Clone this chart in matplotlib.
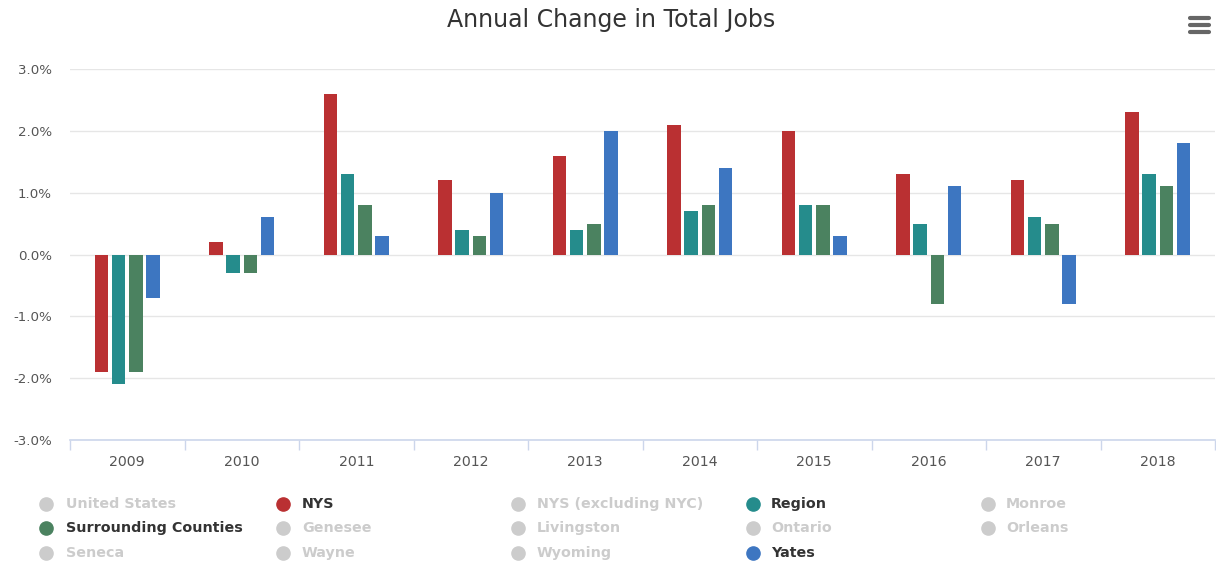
import numpy as np
import matplotlib
matplotlib.use("Agg")
import matplotlib.pyplot as plt
from matplotlib.lines import Line2D

# datos
years = ["2009", "2010", "2011", "2012", "2013", "2014", "2015", "2016", "2017", "2018"]
nys = [-1.9, 0.2, 2.6, 1.2, 1.6, 2.1, 2.0, 1.3, 1.2, 2.3]
region = [-2.1, -0.3, 1.3, 0.4, 0.4, 0.7, 0.8, 0.5, 0.6, 1.3]
surrounding = [-1.9, -0.3, 0.8, 0.3, 0.5, 0.8, 0.8, -0.8, 0.5, 1.1]
yates = [-0.7, 0.6, 0.3, 1.0, 2.0, 1.4, 0.3, 1.1, -0.8, 1.8]

series_names = ["NYS", "Region", "Surrounding Counties", "Yates"]
series_vals = [nys, region, surrounding, yates]
colores = ["#BA3032", "#258C8C", "#4B8260", "#3D76C1"]

legend_items = [
    "United States", "NYS", "NYS (excluding NYC)", "Region", "Monroe",
    "Surrounding Counties", "Genesee", "Livingston", "Ontario", "Orleans",
    "Seneca", "Wayne", "Wyoming", "Yates",
]

W, H = 1216, 562
fig = plt.figure(figsize=(W / 100, H / 100), dpi=100)
ax = fig.add_axes([70 / W, 1 - 440 / H, (1215 - 70) / W, (440 - 69) / H])

x = np.arange(len(years))
ancho = 0.118
paso = 0.151
for k, (vals, col) in enumerate(zip(series_vals, colores)):
    off = (k - 1.5) * paso
    ax.bar(x + off, vals, width=ancho, color=col, linewidth=0, zorder=3)

ax.set_xlim(-0.5, len(years) - 0.5)
ax.set_ylim(-3, 3)
ax.set_yticks(np.arange(-3, 3.1, 1))
ax.set_yticklabels([f"{v:.1f}%" for v in np.arange(-3, 3.1, 1)])
ax.set_xticks(x)
ax.set_xticklabels(years)
ax.set_xticks(np.arange(-0.5, len(years), 1), minor=True)
ax.tick_params(axis="x", which="major", length=0, pad=11, labelsize=10.2, labelcolor="#555555")
ax.tick_params(axis="x", which="minor", length=7.5, width=1, color="#CCD6EB", direction="out")
ax.tick_params(axis="y", length=0, pad=13, labelsize=9.6, labelcolor="#555555")

ax.grid(axis="y", color="#E6E6E6", linewidth=1, zorder=0)
for s in ["top", "right", "left"]:
    ax.spines[s].set_visible(False)
ax.spines["bottom"].set_color("#CCD6EB")
ax.spines["bottom"].set_linewidth(1.2)

fig.text(611 / W, 1 - 20 / H, "Annual Change in Total Jobs", ha="center", va="center",
         fontsize=17, color="#333333")

# icono de menú
for yy in [18, 25, 32]:
    fig.add_artist(Line2D([1190 / W, 1209 / W], [1 - yy / H, 1 - yy / H],
                          color="#666666", linewidth=3, solid_capstyle="round"))

# leyenda
col_marker = [46, 283, 518, 753, 988]
col_text = [66, 302, 537, 771, 1006]
filas = [504, 528, 553]
for i, nombre in enumerate(legend_items):
    r, c = divmod(i, 5)
    activo = nombre in series_names
    color_m = colores[series_names.index(nombre)] if activo else "#CCCCCC"
    color_t = "#333333" if activo else "#CCCCCC"
    yy = 1 - filas[r] / H
    fig.add_artist(Line2D([col_marker[c] / W], [yy], marker="o", markersize=9.5,
                          color=color_m, linestyle="none"))
    fig.text(col_text[c] / W, yy, nombre, ha="left", va="center", fontsize=10.3,
             fontweight="bold", color=color_t)

fig.savefig("out.png", dpi=100)
